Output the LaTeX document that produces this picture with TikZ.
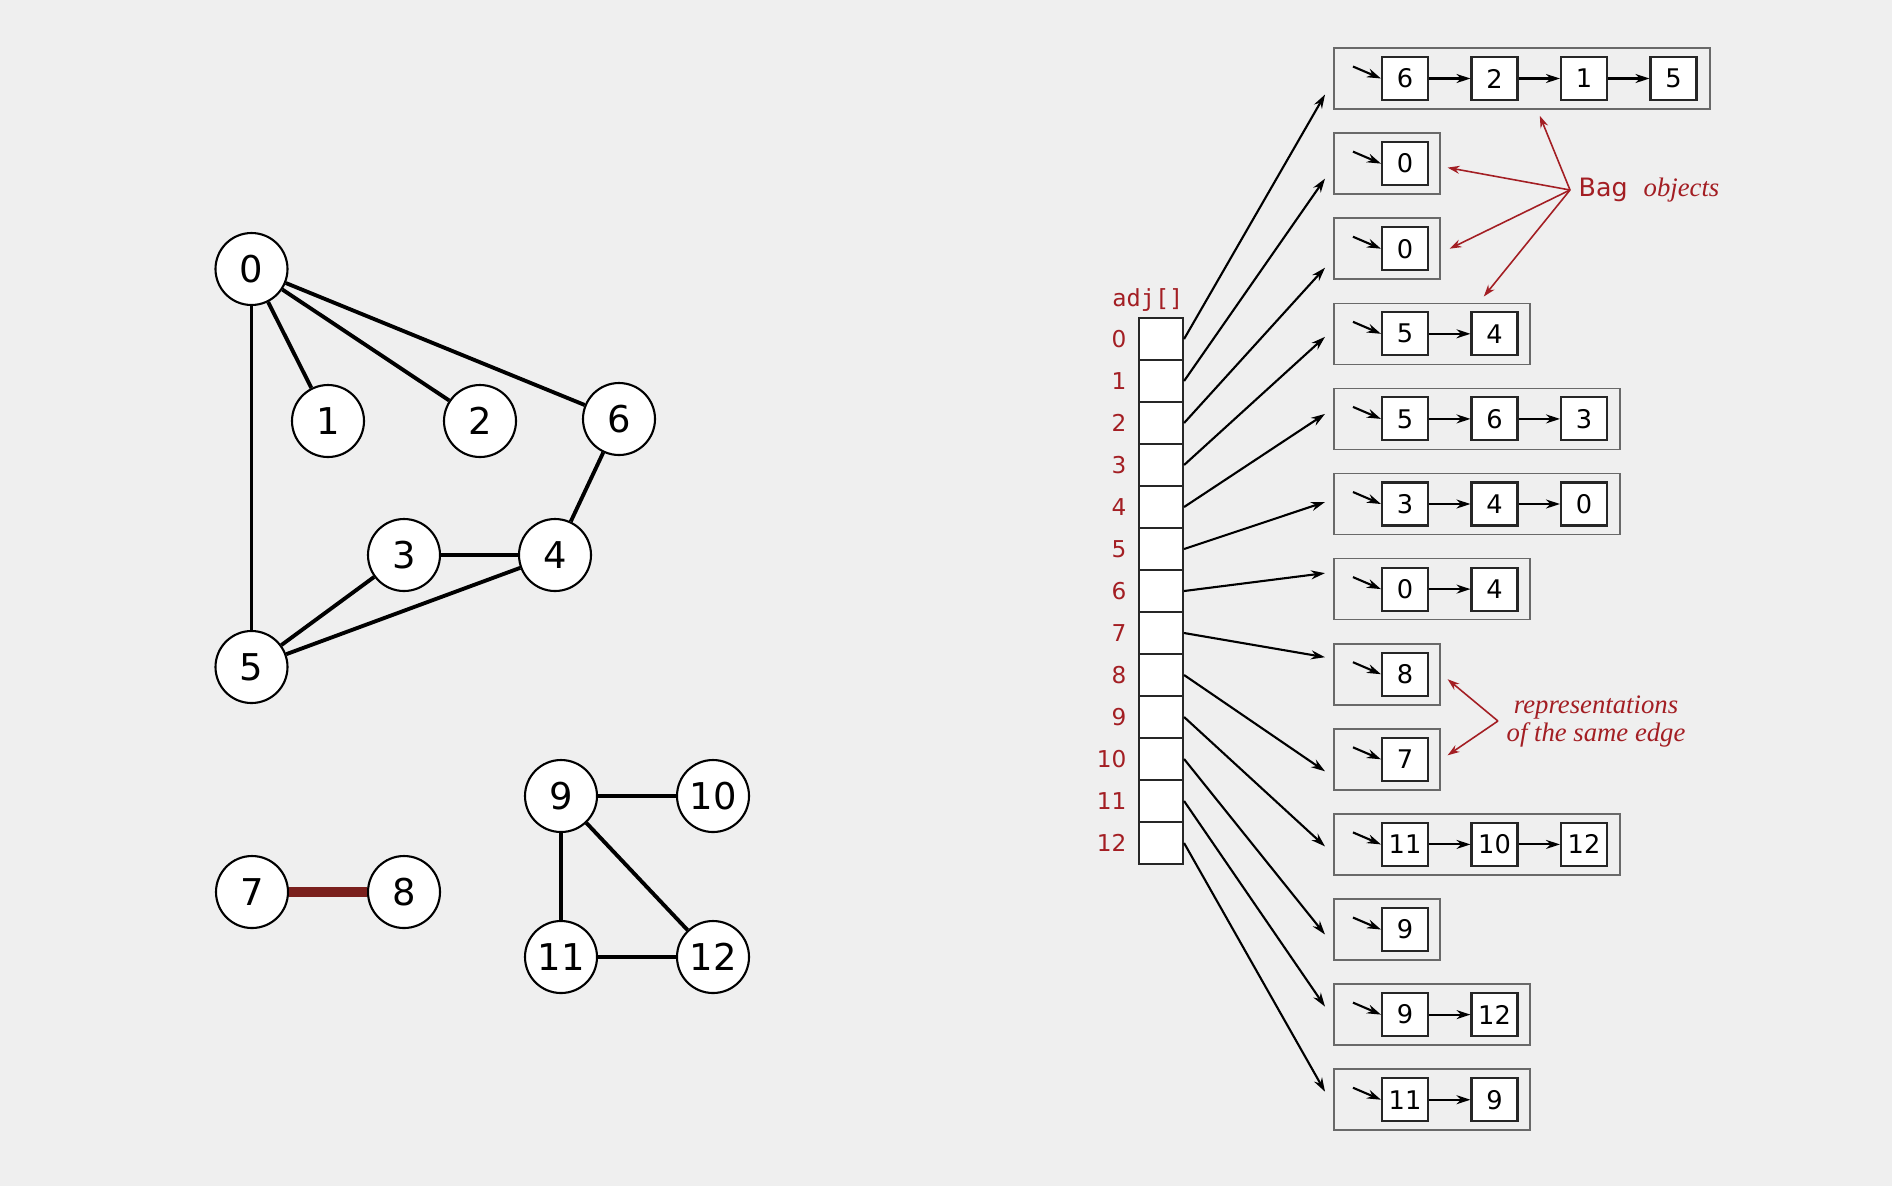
\documentclass[tikz,border=0pt]{standalone}
\usepackage{fontspec}
\setsansfont{DejaVu Sans}
\setmonofont{DejaVu Sans Mono}
\newfontfamily\notefont{Liberation Serif}
\definecolor{bookred}{RGB}{163,30,35}
\definecolor{edgered}{RGB}{122,32,29}
\definecolor{pagegray}{RGB}{239,239,239}
\definecolor{framegray}{RGB}{105,105,105}
\usepackage{tikz}
\usetikzlibrary{arrows.meta,positioning,calc}
\tikzset{
  vertex/.style={circle, draw, line width=0.6pt, fill=white, minimum size=0.72cm, inner sep=0pt, font=\sffamily\fontsize{10.5}{10.5}\selectfont},
  gedge/.style={line width=1.1pt},
  cell/.style={rectangle, draw=black!85, line width=0.6pt, fill=white, minimum width=0.44cm, minimum height=0.42cm, inner sep=0pt},
  idx/.style={text=bookred, font=\sffamily\fontsize{6.6}{6.6}\selectfont, inner sep=0pt},
  bagbox/.style={rectangle, draw=framegray, line width=0.45pt, minimum height=0.61cm, inner sep=0pt},
  itembox/.style={rectangle, draw=black!85, line width=0.6pt, fill=white, minimum width=0.46cm, minimum height=0.43cm, inner sep=0pt, font=\sffamily\fontsize{7.3}{7.3}\selectfont},
  link/.style={line width=0.6pt, -{Stealth[length=0.14cm, width=0.09cm]}},
  note/.style={text=bookred, inner sep=0.08cm},
  notearrow/.style={bookred, line width=0.45pt, -{Stealth[length=0.12cm, width=0.08cm]}},
}
\begin{document}
\begin{tikzpicture}
\useasboundingbox (0,0) rectangle (18.92,-11.86);
\fill[pagegray] (0,0) rectangle (18.92,-11.86);

\node[vertex] (v0) at (2.515,-2.69) {0};
\node[vertex] (v1) at (3.28,-4.21) {1};
\node[vertex] (v2) at (4.80,-4.21) {2};
\node[vertex] (v6) at (6.19,-4.19) {6};
\node[vertex] (v3) at (4.04,-5.55) {3};
\node[vertex] (v4) at (5.55,-5.55) {4};
\node[vertex] (v5) at (2.515,-6.67) {5};
\node[vertex] (v7) at (2.52,-8.92) {7};
\node[vertex] (v8) at (4.04,-8.92) {8};
\node[vertex] (v9) at (5.61,-7.96) {9};
\node[vertex] (v10) at (7.13,-7.96) {10};
\node[vertex] (v11) at (5.61,-9.57) {11};
\node[vertex] (v12) at (7.13,-9.57) {12};
\foreach \a/\b in {v0/v1, v0/v2, v0/v6, v0/v5, v6/v4, v3/v4, v3/v5, v4/v5, v9/v10, v9/v11, v9/v12, v11/v12}
  \draw[gedge] (\a) -- (\b);
\draw[gedge, edgered, line width=2.8pt] (v7) -- (v8);

\foreach \i in {0,...,12} {
  \node[cell] (a\i) at (11.61,-3.39-0.42*\i) {};
  \node[idx, left=0.11cm of a\i] {\i};
}
\node[text=bookred, font=\ttfamily\fontsize{6.7}{6.7}\selectfont, inner sep=0pt, above left=0.05cm and 0cm of a0.north east] (adjname) {adj[]};

\foreach \i/\n/\dy/\list in {0/4/-0.16/{6,2,1,5}, 1/1/-0.15/{0}, 2/1/-0.19/{0}, 3/2/-0.03/{5,4}, 4/3/0.05/{5,6,3}, 5/3/0.02/{3,4,0}, 6/2/0.16/{0,4}, 7/1/0.17/{8}, 8/1/-0.12/{7}, 9/3/-0.02/{11,10,12}, 10/1/-0.05/{9}, 11/2/0.08/{9,12}, 12/2/0.08/{11,9}} {
  \pgfmathsetmacro\y{-0.785-0.851*\i}
  \pgfmathsetmacro\w{1.06+0.9*(\n-1)}
  \node[bagbox, minimum width=\w cm, anchor=west] (bag\i) at (13.33,\y) {};
  \foreach \v [count=\k, remember=\k as \j (initially 0)] in \list {
    \node[itembox] (s\i-\k) at (14.05+0.895*\k-0.895,\y) {\v};
    \ifnum\k>1 \draw[link] (s\i-\j) -- (s\i-\k); \fi
  }
  \coordinate (p\i) at ($(s\i-1.west)+(-0.28,0.12)$);
  \draw[link] (p\i) -- (s\i-1.west);
  \coordinate (t\i) at ($(bag\i.west)+(-0.08,\dy)$);
  \draw[link] (a\i.east) -- (t\i);
}

\node[note, anchor=west] (bagnote) at (15.70,-1.90) {{\sffamily\fontsize{7.2}{7.2}\selectfont Bag}\hspace{0.16cm}{\notefont\fontsize{7.6}{7.6}\selectfont\itshape objects}};
\coordinate (n0) at ($(bag0.south)+(0.18,-0.06)$);
\coordinate (n1) at ($(bag1.east)+(0.07,-0.04)$);
\coordinate (n2) at ($(bag2.east)+(0.09,0)$);
\coordinate (n3) at ($(bag3.north)+(0.52,0.06)$);
\foreach \t in {n0,n1,n2,n3}
  \draw[notearrow] (bagnote.west) -- (\t);

\node[note, align=center, font=\notefont\fontsize{7.6}{6.6}\selectfont\itshape] (edgenote) at (15.96,-7.21) {representations\\of the same edge};
\coordinate (m7) at ($(bag7.east)+(0.07,-0.05)$);
\coordinate (m8) at ($(bag8.east)+(0.07,0.04)$);
\foreach \t in {m7,m8}
  \draw[notearrow] (edgenote.west) -- (\t);
\end{tikzpicture}
\end{document}
